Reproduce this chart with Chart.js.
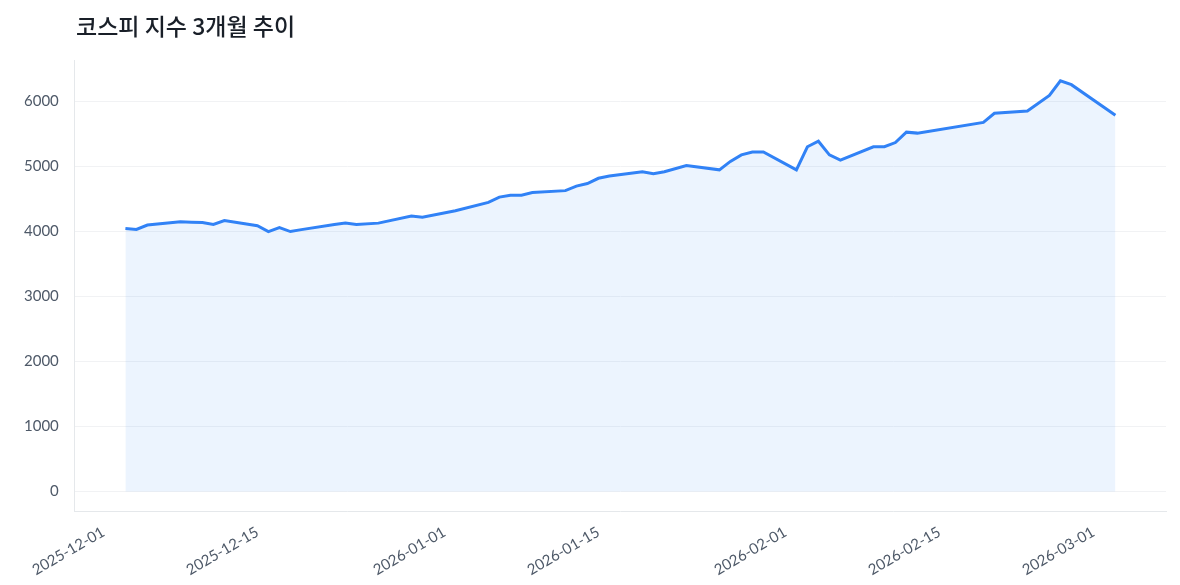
<!DOCTYPE html>
<html>
<head>
<meta charset="utf-8">
<script src="https://cdn.jsdelivr.net/npm/chart.js@4"></script>
<style>
  body { margin: 0; background: #fff; }
  #wrap { position: relative; width: 1180px; height: 585px; }
  #title { position: absolute; left: 76px; top: 8px; font: 500 23px "Noto Sans CJK KR", "Noto Sans", sans-serif; color: #191f28; }
</style>
</head>
<body>
<div id="wrap"><div id="title">코스피 지수 3개월 추이</div><canvas id="c"></canvas></div>
<script>
// kospi closes
const dates = ['2025-12-03','2025-12-04','2025-12-05','2025-12-08','2025-12-09','2025-12-10','2025-12-11','2025-12-12',
  '2025-12-15','2025-12-16','2025-12-17','2025-12-18','2025-12-19','2025-12-22','2025-12-23','2025-12-24','2025-12-26',
  '2025-12-29','2025-12-30','2026-01-02','2026-01-05','2026-01-06','2026-01-07','2026-01-08','2026-01-09',
  '2026-01-12','2026-01-13','2026-01-14','2026-01-15','2026-01-16','2026-01-19','2026-01-20','2026-01-21','2026-01-23',
  '2026-01-26','2026-01-27','2026-01-28','2026-01-29','2026-01-30','2026-02-02','2026-02-03','2026-02-04','2026-02-05',
  '2026-02-06','2026-02-09','2026-02-10','2026-02-11','2026-02-12','2026-02-13','2026-02-19','2026-02-20','2026-02-23',
  '2026-02-25','2026-02-26','2026-02-27','2026-03-03'];
const closes = [4048,4032,4100,4150,4145,4140,4110,4170,
  4090,4000,4060,4000,4030,4110,4130,4110,4130,
  4240,4220,4320,4450,4530,4560,4560,4600,
  4630,4700,4740,4820,4855,4920,4890,4920,5015,
  4950,5080,5180,5225,5225,4950,5305,5390,5180,
  5100,5305,5305,5370,5530,5515,5680,5820,5855,
  6095,6320,6260,5790];
const tickDates = ['2025-12-01','2025-12-15','2026-01-01','2026-01-15','2026-02-01','2026-02-15','2026-03-01'];
const yTicks = [0,1000,2000,3000,4000,5000,6000];

const base = Date.UTC(2025, 11, 1);
const toDay = (s) => (Date.parse(s + 'T00:00:00Z') - base) / 86400000;
const dayToLabel = {};
tickDates.forEach(d => dayToLabel[toDay(d)] = d);

const points = dates.map((d, i) => ({x: toDay(d), y: closes[i]}));

new Chart(document.getElementById('c'), {
  type: 'line',
  data: {
    datasets: [{
      data: points,
      borderColor: '#3182f6',
      borderWidth: 3,
      backgroundColor: 'rgba(49,130,246,0.09)',
      fill: 'origin',
      pointRadius: 0,
      tension: 0
    }]
  },
  options: {
    responsive: true,
    maintainAspectRatio: false,
    animation: false,
    layout: { padding: { left: 16, right: 14, top: 60, bottom: 2 } },
    plugins: {
      legend: { display: false },
      tooltip: { enabled: false }
    },
    scales: {
      x: {
        type: 'linear',
        min: -2.6,
        max: 96.6,
        afterBuildTicks: (ax) => { ax.ticks = tickDates.map(d => ({value: toDay(d)})); },
        ticks: {
          autoSkip: false,
          maxRotation: 30, minRotation: 30,
          color: '#4e5968',
          padding: 4,
          font: { family: 'Lato, "Noto Sans", sans-serif', size: 15 },
          callback: (v) => dayToLabel[v] || ''
        },
        grid: { display: false, drawTicks: true, tickLength: 8, tickColor: '#c8ccd2' },
        border: { color: '#e5e8eb' }
      },
      y: {
        min: -300,
        max: 6640,
        afterBuildTicks: (ax) => { ax.ticks = yTicks.map(v => ({value: v})); },
        ticks: {
          color: '#4e5968',
          padding: 8,
          font: { family: 'Lato, "Noto Sans", sans-serif', size: 15 },
          callback: (v) => String(v)
        },
        grid: { color: '#f1f2f4', drawTicks: true, tickLength: 8, tickColor: '#ffffff' },
        border: { color: '#e5e8eb' }
      }
    }
  }
});
</script>
</body>
</html>
